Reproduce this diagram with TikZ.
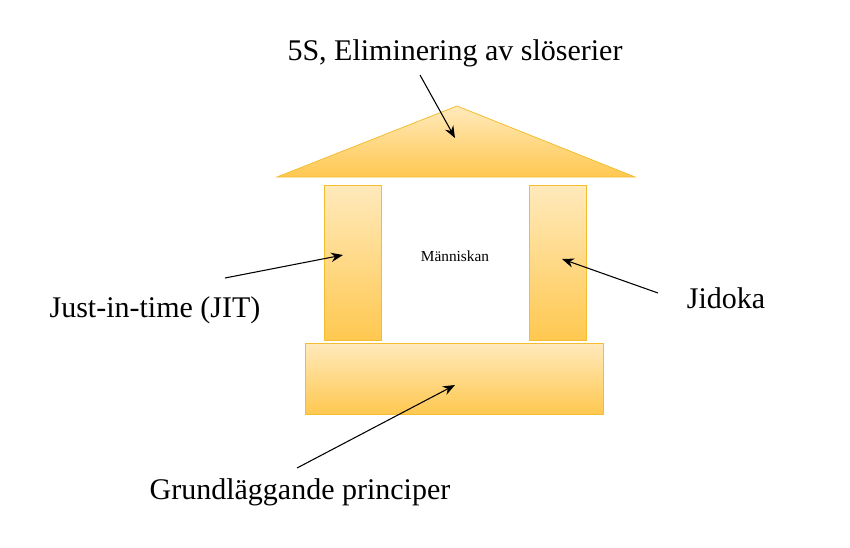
\documentclass[tikz,border=0pt]{standalone}
\usepackage{fontspec}
\setmainfont{Liberation Serif}
\usetikzlibrary{arrows.meta,positioning}
\definecolor{partfill}{HTML}{FFDB8F}
\definecolor{partdark}{HTML}{FFC850}
\definecolor{partline}{HTML}{F2BE30}
\tikzset{
  part/.style={draw=partline, line width=0.6pt, top color=partfill!60!white, bottom color=partdark},
  label/.style={font=\fontsize{22.5}{26}\selectfont, inner sep=0pt},
  pointer/.style={-{Stealth[length=9pt,width=7pt]}, line width=0.8pt}
}
\begin{document}
\begin{tikzpicture}[x=0.75pt,y=0.75pt,yscale=-1,xscale=1]
    \useasboundingbox (0,0) rectangle (850,547);

    %Shape: roof
    \draw [part] (277,177) -- (457,106) -- (635,177) -- cycle ;
    %Shape: pillars
    \draw [part] (324,185) rectangle (381,340) ;
    \draw [part] (529,185) rectangle (586,340) ;
    %Shape: base
    \draw [part] (305,343) rectangle (603,414) ;

    % Targets
    \coordinate (roof) at (455,138);
    \coordinate (jitpillar) at (343,255);
    \coordinate (jidokapillar) at (562,259);
    \coordinate (base) at (455,385);

    % Text Node
    \node (people) at (455,256) {\fontsize{11.5}{13}\selectfont Människan};
    \node [label] (top) at (455,53) {5S, Eliminering av slöserier};
    \node [label] (jit) at (155,310) {Just-in-time (JIT)};
    \node [label] (jidoka) at (726,298) {Jidoka};
    \node [label] (basic) at (300,492) {Grundläggande principer};

    % Arrows
    \draw [pointer] (420,75) -- (roof);
    \draw [pointer] (225,278) -- (jitpillar);
    \draw [pointer] (658,293) -- (jidokapillar);
    \draw [pointer] (297,468) -- (base);
\end{tikzpicture}
\end{document}
